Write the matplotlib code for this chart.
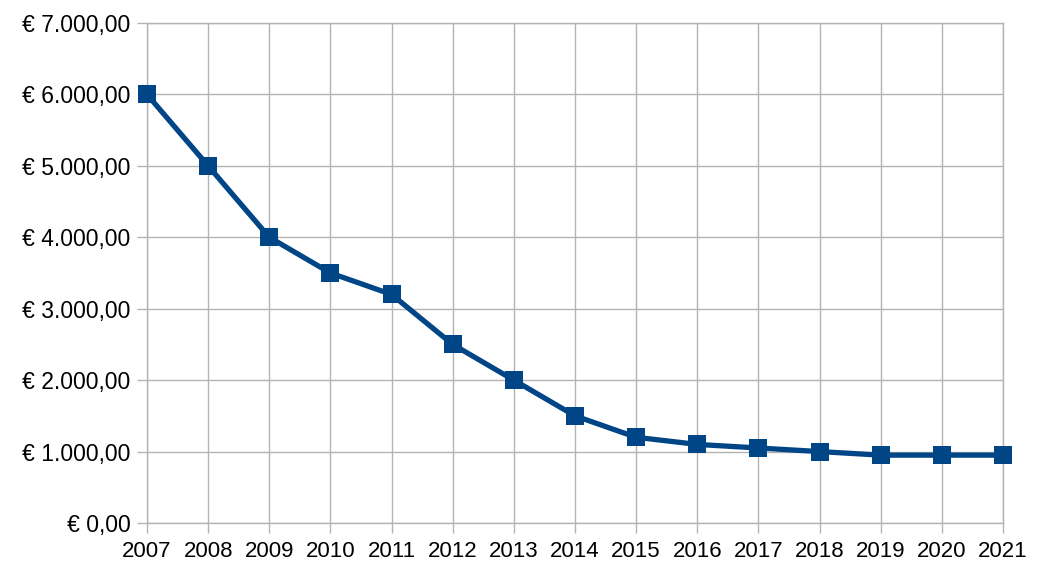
import matplotlib
matplotlib.use('Agg')
import matplotlib.pyplot as plt
from matplotlib.ticker import FuncFormatter

plt.rcParams['font.family'] = ['Liberation Sans', 'DejaVu Sans']

years = [2007, 2008, 2009, 2010, 2011, 2012, 2013, 2014, 2015, 2016, 2017, 2018, 2019, 2020, 2021]
values = [6000, 5000, 4000, 3500, 3200, 2500, 2000, 1500, 1200, 1100, 1050, 1000, 950, 950, 950]


def euro(v, pos):
    s = f'{v:,.2f}'.replace(',', 'X').replace('.', ',').replace('X', '.')
    return '€ ' + s


fig = plt.figure(figsize=(10.4, 5.84), dpi=100)
ax = fig.add_axes([147 / 1040, 1 - 523 / 584, (1003 - 147) / 1040, 500 / 584])

grid_col = '#b3b3b3'
ax.plot(years, values, color='#004586', lw=3.8, marker='s', markersize=13,
        markeredgewidth=0, zorder=3, clip_on=False)

ax.set_xlim(2007, 2021)
ax.set_ylim(0, 7000)
ax.set_xticks(years)
ax.set_yticks(range(0, 7001, 1000))
ax.yaxis.set_major_formatter(FuncFormatter(euro))
ax.grid(True, color=grid_col, lw=1)
for s in ax.spines.values():
    s.set_color(grid_col)
    s.set_linewidth(1)
ax.tick_params(axis='both', colors=grid_col, length=7, width=1, labelcolor='black')
ax.tick_params(axis='y', pad=5, labelsize=16.5)
ax.tick_params(axis='x', pad=6, labelsize=16)

fig.savefig('out.png', dpi=100)
